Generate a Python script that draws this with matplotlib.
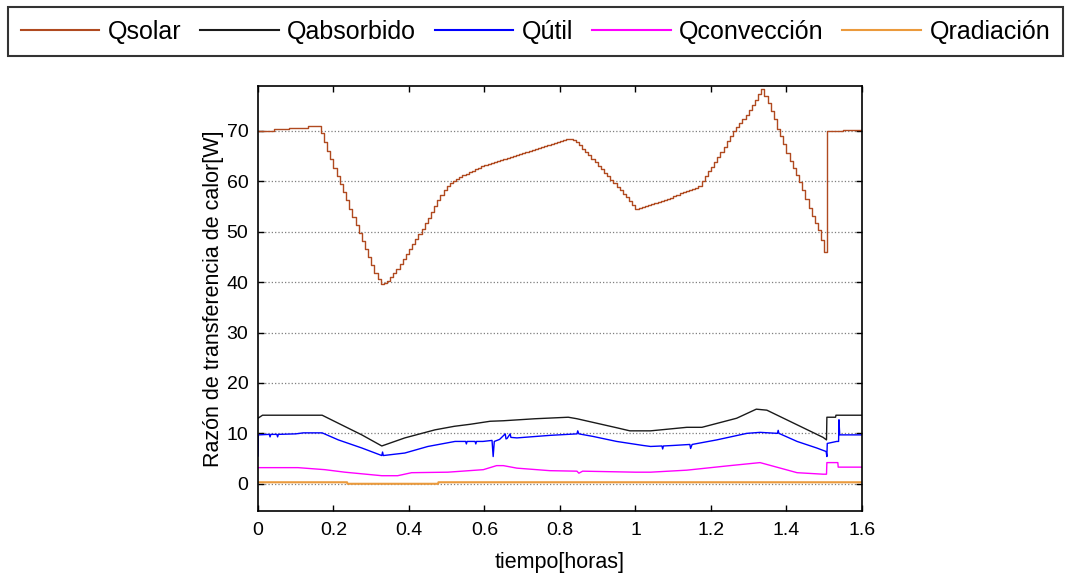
import numpy as np
import matplotlib
matplotlib.use("Agg")
import matplotlib.pyplot as plt

plt.rcParams['font.family'] = ['Liberation Sans', 'DejaVu Sans']

# solar heat input, sampled every 30 s (1/120 h)
q_solar = [
    70.0, 70.0, 70.0, 70.0, 70.0, 70.3, 70.3, 70.3, 70.3, 70.3,
    70.6, 70.6, 70.6, 70.6, 70.6, 70.6, 71.0, 71.0, 71.0, 71.0,
    69.5, 67.8, 66.1, 64.4, 62.7, 61.0, 59.4, 57.8, 56.2, 54.6,
    53.0, 51.4, 49.8, 48.2, 46.6, 45.0, 43.4, 41.8, 40.6, 39.7,
    39.8,
    40.3, 41.1, 41.9, 42.7, 43.6, 44.5, 45.5, 46.5, 47.5, 48.5,
    49.5, 50.6, 51.7, 52.8, 54.0, 55.1, 56.2, 57.2, 58.2, 59.1,
    59.6, 60.0, 60.4, 60.8, 61.2, 61.5, 61.8, 62.1, 62.4, 62.7,
    63.0, 63.2, 63.4, 63.6, 63.8, 64.0, 64.2, 64.4, 64.6, 64.8,
    65.0, 65.2, 65.4,
    65.6, 65.8, 66.0, 66.2, 66.4, 66.6, 66.8, 67.0, 67.2, 67.4,
    67.6, 67.8, 68.0, 68.2, 68.4, 68.4,
    68.2, 67.7, 67.1, 66.5, 65.9, 65.2, 64.5, 63.8, 63.1, 62.4,
    61.7, 61.0, 60.3, 59.6, 58.9, 58.2, 57.5, 56.8, 56.0, 55.3,
    54.6,
    54.7, 54.9, 55.1, 55.3, 55.5, 55.7, 55.9, 56.0, 56.2, 56.4,
    56.7, 57.0, 57.3, 57.6, 57.9, 58.1, 58.3, 58.5, 58.7, 59.0,
    60.0, 61.0, 62.0, 62.9, 63.9, 64.9, 65.9, 66.9, 67.9, 68.9,
    69.9, 70.8, 71.6, 72.4, 73.2, 74.2, 75.2, 76.2, 77.3, 78.3,
    77.0, 75.6, 74.0, 72.4, 70.4, 68.9, 67.3, 65.6, 64.0, 62.6,
    61.2, 59.9, 58.2, 56.5, 54.8, 53.1, 51.7, 50.4, 48.3, 46.0,
    70.0, 70.0, 70.0, 70.0, 70.0,
    70.2, 70.2, 70.2, 70.2, 70.2, 70.2, 70.2,
]
dt_solar = 1 / 120

t_abs = [0, 0.012, 0.17, 0.213, 0.275, 0.328, 0.389, 0.469, 0.52, 0.562,
         0.615, 0.65, 0.734, 0.822, 0.845, 0.898, 0.951, 0.985, 1.04, 1.136,
         1.176, 1.268, 1.32, 1.348, 1.428, 1.497, 1.506, 1.507, 1.53, 1.531, 1.6]
q_abs = [13.0, 13.6, 13.6, 12.0, 9.7, 7.5, 9.1, 10.7, 11.4, 11.8,
         12.4, 12.5, 12.9, 13.2, 12.9, 12.0, 11.1, 10.5, 10.5, 11.2,
         11.2, 13.0, 14.8, 14.6, 11.7, 9.2, 8.7, 13.2, 13.2, 13.6, 13.6]

t_util = [0, 0.001, 0.03, 0.032, 0.034, 0.05, 0.052, 0.054, 0.1, 0.12,
          0.17, 0.213, 0.275, 0.328, 0.33, 0.332, 0.389, 0.45, 0.522, 0.55,
          0.552, 0.554, 0.575, 0.577, 0.579, 0.596, 0.62, 0.623, 0.626, 0.64,
          0.655, 0.657, 0.66, 0.668, 0.67, 0.686, 0.773, 0.845, 0.847, 0.85,
          0.887, 0.95, 1.02, 1.04, 1.07, 1.072, 1.074, 1.1, 1.144, 1.146,
          1.15, 1.215, 1.295, 1.33, 1.376, 1.378, 1.38, 1.428, 1.48, 1.505,
          1.507, 1.508, 1.533, 1.538, 1.539, 1.541, 1.6]
q_util = [5.5, 9.7, 9.8, 9.3, 9.8, 9.8, 9.3, 9.8, 9.9, 10.1,
          10.1, 8.7, 7.1, 5.6, 6.3, 5.6, 6.1, 7.4, 8.4, 8.4,
          7.9, 8.4, 8.4, 7.9, 8.4, 8.4, 8.6, 5.4, 8.4, 8.8,
          9.9, 8.9, 9.0, 9.9, 9.2, 9.1, 9.6, 9.9, 10.5, 9.9,
          9.4, 8.4, 7.6, 7.4, 7.5, 6.9, 7.5, 7.6, 7.8, 7.0,
          7.8, 8.7, 10.0, 10.2, 10.0, 10.6, 10.0, 8.4, 7.1, 6.4,
          5.4, 8.0, 8.4, 8.4, 12.7, 9.7, 9.7]

t_conv = [0, 0.106, 0.177, 0.23, 0.328, 0.37, 0.407, 0.503, 0.597, 0.632,
          0.65, 0.686, 0.773, 0.845, 0.85, 0.86, 1.0, 1.04, 1.136, 1.25,
          1.33, 1.428, 1.497, 1.506, 1.507, 1.536, 1.537, 1.6]
q_conv = [3.2, 3.2, 2.8, 2.3, 1.6, 1.6, 2.2, 2.3, 2.8, 3.6,
          3.6, 3.1, 2.6, 2.5, 2.1, 2.5, 2.3, 2.3, 2.7, 3.6,
          4.2, 2.2, 1.9, 1.9, 4.2, 4.2, 3.3, 3.3]

t_rad = [0, 0.236, 0.237, 0.477, 0.478, 1.6]
q_rad = [0.3, 0.3, 0.0, 0.0, 0.3, 0.3]

labels = ['Qsolar', 'Qabsorbido', 'Qútil', 'Qconvección', 'Qradiación']
colors = ['#b04a20', '#1a1a1a', '#0000ff', '#ff00ff', '#eb9a3c']

fig = plt.figure(figsize=(10.7, 5.73), dpi=100)
ax = fig.add_axes([0.2411, 0.1082, 0.5645, 0.7417])

t_solar = np.arange(len(q_solar)) * dt_solar
ax.step(t_solar, q_solar, where='post', color=colors[0], lw=1.0, label=labels[0])
ax.plot(t_abs, q_abs, color=colors[1], lw=1.0, label=labels[1])
ax.plot(t_util, q_util, color=colors[2], lw=1.0, label=labels[2])
ax.plot(t_conv, q_conv, color=colors[3], lw=1.0, label=labels[3])
ax.plot(t_rad, q_rad, color=colors[4], lw=1.5, label=labels[4])

ax.set_xlim(0, 1.6)
ax.set_ylim(-5.4, 78.9)
ax.set_xticks(np.arange(0, 1.61, 0.2))
ax.set_xticklabels(['0', '0.2', '0.4', '0.6', '0.8', '1', '1.2', '1.4', '1.6'])
ax.set_yticks(range(0, 71, 10))
ax.yaxis.grid(True, linestyle=':', color='#7f7f7f', lw=0.9)
ax.set_axisbelow(True)
ax.tick_params(direction='in', top=True, right=True, length=4, labelsize=14, width=1)
ax.tick_params(axis='x', pad=8)
ax.tick_params(axis='y', pad=7)
for sp in ax.spines.values():
    sp.set_linewidth(1.2)

ax.set_xlabel('tiempo[horas]', fontsize=15.5, labelpad=9)
ax.set_ylabel('Razón de transferencia de calor[W]', fontsize=15.5, labelpad=2)

handles, labs = ax.get_legend_handles_labels()
leg = fig.legend(handles, labs, loc='upper left', bbox_to_anchor=(8 / 1070, 1 - 7 / 573),
                 ncol=5, fontsize=18, frameon=True, fancybox=False, borderaxespad=0,
                 handlelength=3.15, handletextpad=0.35, columnspacing=0.73, borderpad=0.5)
leg.get_frame().set_edgecolor('black')
leg.get_frame().set_linewidth(1.5)
for h in leg.get_lines():
    h.set_linewidth(1.5)

fig.savefig('out.png', dpi=100)
